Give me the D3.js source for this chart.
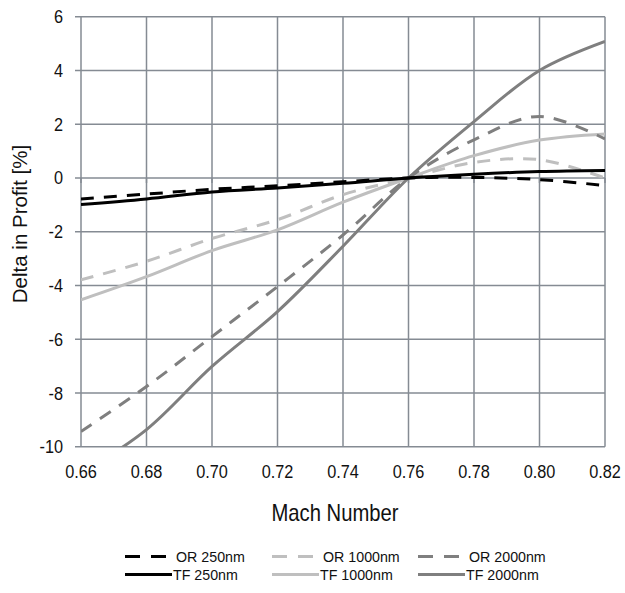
<!DOCTYPE html>
<html>
<head>
<meta charset="utf-8">
<script src="https://cdn.jsdelivr.net/npm/d3@7"></script>
<style>
  html, body { margin: 0; padding: 0; background: #fff; }
  svg text { font-family: "Liberation Sans", Arial, sans-serif; fill: #111; }
</style>
</head>
<body>
<svg id="chart" width="625" height="593"></svg>
<script>
// Mach numbers sampled along the x axis
const mach = [0.66, 0.68, 0.70, 0.72, 0.74, 0.76, 0.78, 0.80, 0.82];

// Delta in profit [%] for each configuration
const or250  = [-0.78, -0.60, -0.42, -0.29, -0.14, 0.00, 0.02, -0.06, -0.28];
const or1000 = [-3.79, -3.10, -2.25, -1.55, -0.62, 0.00, 0.58, 0.68, 0.00];
const or2000 = [-9.43, -7.76, -5.90, -4.04, -2.12, 0.00, 1.42, 2.29, 1.45];
const tf250  = [-0.99, -0.78, -0.52, -0.37, -0.20, 0.00, 0.14, 0.24, 0.28];
const tf1000 = [-4.53, -3.67, -2.70, -1.93, -0.90, 0.00, 0.83, 1.41, 1.64];
const tf2000 = [-11.0, -9.36, -7.01, -4.97, -2.54, 0.00, 2.10, 4.00, 5.08];

const xTicks = [0.66, 0.68, 0.70, 0.72, 0.74, 0.76, 0.78, 0.80, 0.82];
const yTicks = [-10, -8, -6, -4, -2, 0, 2, 4, 6];

const seriesNames = ["OR 250nm", "OR 1000nm", "OR 2000nm", "TF 250nm", "TF 1000nm", "TF 2000nm"];
const seriesValues = [or250, or1000, or2000, tf250, tf1000, tf2000];
const seriesColors = ["#000000", "#bfbfbf", "#7f7f7f", "#000000", "#bfbfbf", "#7f7f7f"];
const seriesDashed = [true, true, true, false, false, false];

const svg = d3.select("#chart");
const plotLeft = 81, plotRight = 605, plotTop = 16.7, plotBottom = 446.8;

const x = d3.scaleLinear().domain([0.66, 0.82]).range([plotLeft, plotRight]);
const y = d3.scaleLinear().domain([-10, 6]).range([plotBottom, plotTop]);

const gridColor = "#858b93";

// clip region for the plot area
svg.append("defs").append("clipPath").attr("id", "plotClip")
  .append("rect").attr("x", plotLeft).attr("y", plotTop)
  .attr("width", plotRight - plotLeft).attr("height", plotBottom - plotTop);

// gridlines
const grid = svg.append("g");
grid.selectAll("line.v").data(xTicks).join("line")
  .attr("x1", d => x(d)).attr("x2", d => x(d))
  .attr("y1", plotTop).attr("y2", plotBottom)
  .attr("stroke", gridColor).attr("stroke-width", 1.5);
grid.selectAll("line.h").data(yTicks).join("line")
  .attr("x1", plotLeft - 6).attr("x2", plotRight)
  .attr("y1", d => y(d)).attr("y2", d => y(d))
  .attr("stroke", gridColor).attr("stroke-width", 1.5);

// tick marks hanging below the zero line
grid.selectAll("line.t").data(xTicks).join("line")
  .attr("x1", d => x(d)).attr("x2", d => x(d))
  .attr("y1", y(0)).attr("y2", y(0) + 5)
  .attr("stroke", gridColor).attr("stroke-width", 1.5);

// narrow labels: place at (px, py) and squeeze horizontally
const squeeze = 0.88;

// y tick labels
svg.append("g").selectAll("text").data(yTicks).join("text")
  .attr("transform", d => `translate(${plotLeft - 18},${y(d) + 6.5}) scale(${squeeze},1)`)
  .attr("text-anchor", "end").attr("font-size", 18.5)
  .text(d => d);

// x tick labels
svg.append("g").selectAll("text").data(xTicks).join("text")
  .attr("transform", d => `translate(${x(d)},478) scale(${squeeze},1)`)
  .attr("text-anchor", "middle").attr("font-size", 18.5)
  .text(d => d3.format(".2f")(d));

// axis titles
svg.append("text")
  .attr("transform", `translate(335,521) scale(${squeeze},1)`)
  .attr("text-anchor", "middle").attr("font-size", 23)
  .text("Mach Number");
svg.append("text")
  .attr("transform", "translate(27,224) rotate(-90)")
  .attr("text-anchor", "middle").attr("font-size", 20.5)
  .text("Delta in Profit [%]");

// series
const line = d3.line()
  .x(d => x(d[0])).y(d => y(d[1]))
  .curve(d3.curveCatmullRom.alpha(0.5));

const plot = svg.append("g").attr("clip-path", "url(#plotClip)");
const order = [4, 1, 5, 2, 3, 0];
order.forEach(i => {
  plot.append("path")
    .datum(mach.map((m, k) => [m, seriesValues[i][k]]))
    .attr("d", line)
    .attr("fill", "none")
    .attr("stroke", seriesColors[i])
    .attr("stroke-width", 3)
    .attr("stroke-dasharray", seriesDashed[i] ? "13,10" : null);
});

// legend
const legendCols = [125, 272, 418];
const legendRows = [556.5, 574.5];
seriesNames.forEach((name, i) => {
  const col = i % 3, row = Math.floor(i / 3);
  const lx = legendCols[col], ly = legendRows[row];
  const g = svg.append("g");
  if (seriesDashed[i]) {
    g.append("line").attr("x1", lx).attr("x2", lx + 41).attr("y1", ly).attr("y2", ly)
      .attr("stroke", seriesColors[i]).attr("stroke-width", 3)
      .attr("stroke-dasharray", "15,11");
    g.append("text").attr("transform", `translate(${lx + 51},${ly + 5.5}) scale(0.95,1)`)
      .attr("font-size", 15).text(name);
  } else {
    g.append("line").attr("x1", lx).attr("x2", lx + 47).attr("y1", ly).attr("y2", ly)
      .attr("stroke", seriesColors[i]).attr("stroke-width", 3);
    g.append("text").attr("transform", `translate(${lx + 48},${ly + 5.5}) scale(0.95,1)`)
      .attr("font-size", 15).text(name);
  }
});
</script>
</body>
</html>
